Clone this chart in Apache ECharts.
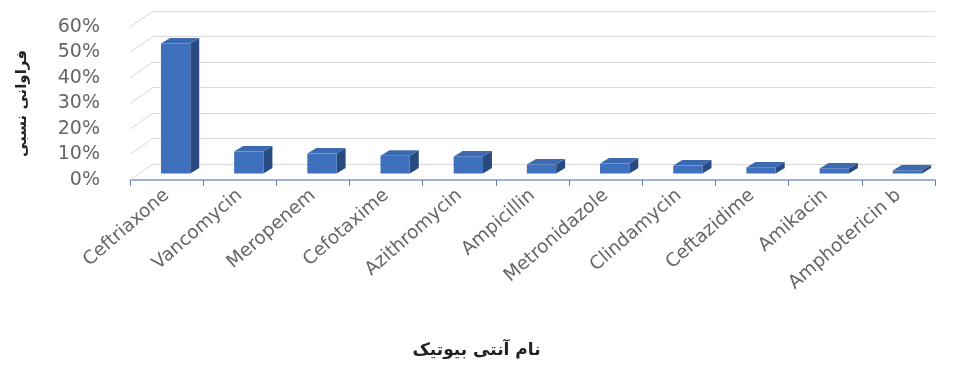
<!DOCTYPE html>
<html><head><meta charset="utf-8">
<script src="https://cdn.jsdelivr.net/npm/echarts@6/dist/echarts.min.js"></script>
<style>html,body{margin:0;padding:0;background:#fff}#c{width:953px;height:381px}</style>
</head><body><div id="c"></div>
<script>
const categories = ['Ceftriaxone','Vancomycin','Meropenem','Cefotaxime','Azithromycin','Ampicillin','Metronidazole','Clindamycin','Ceftazidime','Amikacin','Amphotericin b'];
const values = [51, 8.6, 7.8, 7.0, 6.7, 3.5, 3.9, 3.1, 2.4, 2.0, 1.2];
const yTicks = [0, 10, 20, 30, 40, 50, 60];
const xTitle = 'نام آنتی بیوتیک';
const yTitle = 'فراوانی نسبی';

const chart = echarts.init(document.getElementById('c'));
const labelFont = '"DejaVu Sans", "Open Sans", sans-serif';
const wallDX = 23, wallDY = -16;

chart.setOption({
  animation: false,
  backgroundColor: '#fff',
  grid: [
    {left: 130, right: 18, top: 27, bottom: 201},
    {left: 130 + wallDX, right: 18, top: 27 + wallDY, bottom: 201 - wallDY}
  ],
  graphic: [
    {type: 'text', left: 'center', top: 342, z: 10,
     style: {text: xTitle, font: 'bold 17px "DejaVu Sans", sans-serif', fill: '#222'}}
  ],
  xAxis: [
    {type: 'category', gridIndex: 0, data: categories, boundaryGap: true,
     axisLine: {show: true, lineStyle: {color: '#8497c8', width: 1.5}},
     axisTick: {show: true, length: 6, lineStyle: {color: '#6b7fae'}},
     axisLabel: {rotate: 41, margin: 13, fontSize: 18.5, color: '#666', fontFamily: labelFont, interval: 0}},
    {type: 'category', gridIndex: 1, data: categories, show: false}
  ],
  yAxis: [
    {type: 'value', gridIndex: 0, min: 0, max: 60, interval: 10,
     axisLine: {show: false}, axisTick: {show: false}, splitLine: {show: false},
     axisLabel: {formatter: '{value}%', fontSize: 19, color: '#666', fontFamily: labelFont, margin: 30},
     name: yTitle, nameLocation: 'middle', nameRotate: 90, nameGap: 100,
     nameTextStyle: {fontSize: 15, fontWeight: 'bold', color: '#222', fontFamily: '"DejaVu Sans", sans-serif'}},
    {type: 'value', gridIndex: 1, min: 0, max: 60, interval: 10,
     axisLine: {show: false}, axisTick: {show: false}, axisLabel: {show: false},
     splitLine: {show: true, lineStyle: {color: '#d9d9d9', width: 1}}}
  ],
  series: [
    {
      type: 'custom', xAxisIndex: 0, yAxisIndex: 0, silent: true, z: 1,
      data: yTicks.map(t => [0, t]),
      renderItem: function (params, api) {
        const p = api.coord([0, api.value(1)]);
        const bw = api.size([1, 0])[0];
        const lx = p[0] - bw / 2;
        return {type: 'line', shape: {x1: lx, y1: p[1], x2: lx + wallDX, y2: p[1] + wallDY},
                style: {stroke: '#d9d9d9', lineWidth: 1}};
      }
    },
    {
      type: 'custom', xAxisIndex: 0, yAxisIndex: 0, z: 3,
      data: values.map((v, i) => [i, v]),
      renderItem: function (params, api) {
        const i = api.value(0), v = api.value(1);
        const base = api.coord([i, 0]);
        const top = api.coord([i, v]);
        const bw = api.size([1, 0])[0];
        const w = bw * 0.4;
        const ox = 9, oy = -6.5, dx = 9, dy = -5.5;
        const x0 = base[0] + ox - w / 2, x1 = x0 + w;
        const yb = base[1] + oy, yt = top[1] + oy;
        return {type: 'group', children: [
          {type: 'polygon', shape: {points: [[x1, yb], [x1 + dx, yb + dy], [x1 + dx, yt + dy], [x1, yt]]},
           style: {fill: '#284a80'}},
          {type: 'polygon', shape: {points: [[x0, yt], [x1, yt], [x1 + dx, yt + dy], [x0 + dx, yt + dy]]},
           style: {fill: '#3c6ab0'}},
          {type: 'rect', shape: {x: x0, y: yt, width: w, height: yb - yt},
           style: {fill: '#3e70bd'}}
        ]};
      }
    }
  ]
});
</script></body></html>
